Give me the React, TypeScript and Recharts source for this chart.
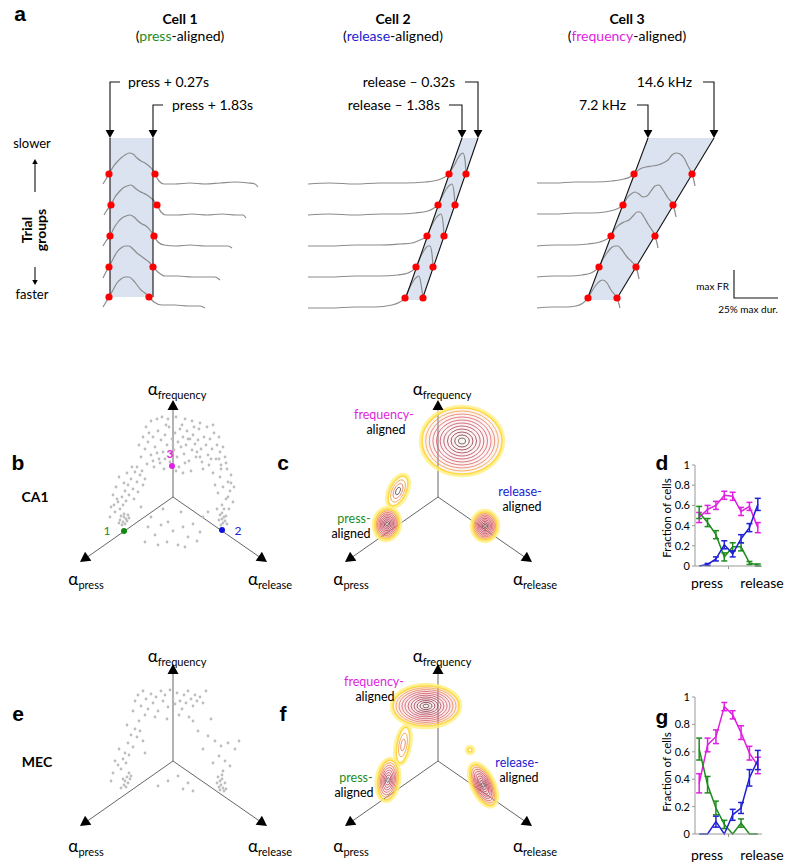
import React from "react"
import { ComposedChart, LineChart, Line, Scatter, Area, XAxis, YAxis, ErrorBar } from "recharts"

type P = [number, number]

// ---------- panel a: three example cells (screen-like units) ----------
const cell1Trials: P[][] = [
  [[103,184],[106,179],[109,174],[113,167],[117,162],[121,158],[125,155],[129,153],[133,154],[137,158],[141,161],[145,163],[149,166],[152,169],[155,174],[159,181],[164,184],[175,184],[190,183],[205,184],[220,183],[235,182],[248,183],[255,184],[258,187]],
  [[104,215],[107,210],[111,205],[115,197],[119,192],[123,188],[127,186],[131,185],[135,188],[139,191],[143,193],[147,195],[151,198],[154,201],[157,205],[161,212],[166,215],[178,215],[192,214],[207,215],[222,214],[236,215],[243,215],[246,218]],
  [[103,246],[106,241],[110,236],[114,228],[118,222],[122,218],[126,216],[130,215],[134,217],[138,221],[142,224],[146,226],[150,230],[154,236],[158,242],[164,245],[176,246],[190,245],[205,246],[218,246],[228,246],[232,248]],
  [[103,278],[106,272],[109,267],[113,259],[117,252],[121,248],[125,246],[129,246],[133,249],[137,253],[141,256],[145,259],[149,262],[153,267],[158,272],[165,276],[178,276],[192,277],[205,277],[215,277],[220,280]],
  [[103,307],[106,302],[109,297],[113,290],[117,283],[121,279],[125,277],[129,277],[133,280],[137,285],[141,290],[145,293],[149,297],[154,302],[162,305],[175,305],[188,306],[200,306],[205,308]],
]
const cell2Trials: P[][] = [
  [[308,184],[330,183],[355,184],[380,183],[405,183],[425,182],[438,180],[445,177],[449,174],[452,169],[455,164],[458,158],[461,154],[463,153],[465,160],[466,174]],
  [[308,215],[330,214],[355,215],[380,214],[400,214],[415,213],[428,211],[434,208],[438,205],[441,199],[444,193],[447,188],[450,185],[452,184],[454,192],[455,205]],
  [[308,246],[330,246],[355,245],[380,245],[400,244],[412,243],[420,240],[427,236],[430,229],[433,223],[436,218],[439,215],[441,214],[443,222],[444,236]],
  [[308,277],[330,277],[355,276],[380,276],[398,275],[408,273],[416,267],[419,260],[422,254],[425,249],[428,246],[430,246],[432,254],[433,267]],
  [[308,308],[330,308],[355,307],[375,307],[392,305],[400,302],[405,298],[408,291],[411,285],[414,280],[417,277],[419,276],[421,284],[423,298]],
]
const cell3Trials: P[][] = [
  [[537,183],[555,183],[575,182],[595,182],[612,181],[624,179],[630,177],[634,174],[640,169],[646,167],[652,166],[658,165],[663,163],[668,160],[672,155],[676,153],[680,154],[684,158],[688,166],[692,174],[694,181],[695,186]],
  [[537,214],[555,214],[575,213],[592,213],[605,212],[614,210],[619,208],[623,205],[627,198],[631,194],[635,192],[639,194],[643,197],[647,196],[651,191],[655,186],[659,185],[663,190],[668,198],[673,205],[675,212],[676,217]],
  [[537,246],[555,245],[572,245],[588,244],[600,242],[607,239],[611,236],[615,229],[619,225],[624,222],[629,220],[633,216],[637,212],[640,212],[644,217],[648,224],[652,230],[655,236],[657,243],[658,248]],
  [[537,277],[555,276],[570,276],[582,275],[591,273],[596,270],[599,267],[603,259],[607,253],[611,248],[615,246],[618,246],[622,250],[627,257],[632,262],[636,267],[638,274],[639,279]],
  [[537,308],[552,307],[566,307],[576,306],[583,303],[588,298],[592,291],[596,285],[600,281],[603,280],[607,283],[611,290],[615,295],[617,298],[619,304],[620,308]],
]
const alignDots: P[] = [
  [109,174],[111,205],[110,236],[109,267],[109,297],[155,174],[157,205],[154,236],[153,267],[149,297],
  [449,174],[438,205],[427,236],[416,267],[405,298],[466,174],[455,205],[444,236],[433,267],[423,298],
  [634,174],[623,205],[611,236],[599,267],[588,298],[692,174],[673,205],[655,236],[636,267],[617,298],
]
const windowEdges: P[][] = [
  [[110,138],[110,297]], [[153,138],[153,297]],
  [[462,138],[405,300]], [[478,138],[422,300]],
  [[648,138],[587,300]], [[714,138],[616,300]],
]
const windowBands = [
  [{ x: 110, r: [138, 297] }, { x: 153, r: [138, 297] }],
  [{ x: 405, r: [300, 300] }, { x: 422, r: [252, 300] }, { x: 462, r: [138, 184] }, { x: 478, r: [138, 138] }],
  [{ x: 587, r: [300, 300] }, { x: 616, r: [223, 300] }, { x: 648, r: [138, 247] }, { x: 714, r: [138, 138] }],
]
const pointers: P[][] = [
  [[120,82],[110,82],[110,131]], [[163,105],[153,105],[153,131]],
  [[465,82],[478,82],[478,131]], [[449,105],[462,105],[462,131]],
  [[703,82],[714,82],[714,131]], [[637,105],[648,105],[648,131]],
  [[734,270],[734,298],[778,298]],
]
const pointerHeads = [
  { x: 110, y: 138, a: 90, s: 8, tail: 0 }, { x: 153, y: 138, a: 90, s: 8, tail: 0 },
  { x: 478, y: 138, a: 90, s: 8, tail: 0 }, { x: 462, y: 138, a: 90, s: 8, tail: 0 },
  { x: 714, y: 138, a: 90, s: 8, tail: 0 }, { x: 648, y: 138, a: 90, s: 8, tail: 0 },
  { x: 35, y: 159, a: -90, s: 5, tail: 33 }, { x: 35, y: 285, a: 90, s: 5, tail: 18 },
]

// ---------- panels b / e: tuning-parameter scatter (units relative to triangle centre) ----------
const ca1Cells: P[] = [
  [-28,48],[-25,55],[-22,42],[-20,60],[-18,50],[-15,66],[-14,38],[-12,57],[-10,45],[-8,62],[-6,52],[-4,70],[-3,35],[-1,58],[1,47],[2,64],[4,40],[5,55],[7,68],[8,50],[10,60],[11,43],[13,52],[14,66],[16,36],[17,58],[19,47],[20,62],[22,53],[23,40],[25,57],[26,68],[28,48],[29,35],[31,60],[33,52],[35,42],[37,58],[39,48],[41,64],[43,38],[44,52],[-26,33],[-19,30],[-9,28],[6,30],[18,26],[30,28],[-16,44],[-2,44],[12,34],[24,45],[36,32],[-24,64],[-7,72],[9,72],[21,70],[47,45],[-32,40],[0,52],
  [-34,52],[-30,60],[-27,70],[-22,76],[-16,78],[-11,80],[-5,78],[3,80],[12,78],[19,76],[27,74],[34,70],[40,72],[46,60],[48,28],[-36,30],[-31,26],[-20,36],[-8,38],[3,26],[10,24],[15,58],[27,40],[-13,34],[38,38],
  [-33,22],[-36,15],[-38,25],[-40,8],[-42,18],[-44,2],[-45,12],[-47,-4],[-48,6],[-50,-8],[-51,0],[-53,-12],[-55,-5],[-57,10],[-58,-15],[-60,2],[-62,-10],[-35,5],[-30,12],[-39,-2],[-28,18],[-46,24],[-54,20],[-63,-20],[-41,30],[-49,14],[-56,-2],[-59,-8],
  [-45,-18],[-47,-22],[-49,-20],[-50,-25],[-52,-19],[-48,-27],[-46,-24],[-51,-28],[-53,-23],[-44,-21],[-49,-17],[-54,-26],
  [50,50],[52,40],[48,32],[54,28],[47,20],[55,15],[50,10],[57,6],[45,4],[53,-2],[49,-8],[56,-12],[42,12],[58,22],[46,38],[40,24],[60,-5],[44,-12],[53,34],[58,14],[51,-12],[55,0],[61,10],
  [47,-18],[49,-22],[51,-20],[50,-26],[52,-24],[48,-28],[53,-19],[46,-23],[54,-27],[49,-16],
  [-25,-30],[-18,-38],[-12,-28],[-6,-45],[0,-34],[5,-48],[10,-30],[15,-40],[20,-27],[24,-44],[-28,-45],[-22,-20],[-5,-25],[12,-50],[27,-35],[-15,-48],[30,-20],[-32,-10],[35,-15],[-10,-12],[8,-15],
]
const mecCells: P[] = [
  [-38,60],[-35,66],[-32,55],[-30,70],[-27,62],[-25,52],[-22,67],[-20,58],[-17,64],[-15,50],[-12,70],[-10,60],[-8,66],[-5,54],[-3,71],[0,62],[2,57],[4,68],[7,60],[9,52],[11,66],[13,58],[15,70],[18,62],[20,55],[22,66],[24,60],[27,64],[-28,46],[-18,44],[-6,42],[6,46],[16,44],[30,58],[-40,50],[33,70],
  [-34,40],[-38,32],[-36,24],[-42,26],[-40,14],[-45,18],[-44,6],[-48,8],[-47,-2],[-50,2],[-52,-8],[-55,-4],[-58,0],[-60,-12],[-33,30],[-30,20],[-46,36],[-54,12],[-62,-20],[-28,8],
  [-44,-12],[-46,-16],[-48,-20],[-45,-22],[-50,-18],[-47,-26],[-43,-18],[-49,-24],[-52,-27],[-42,-15],
  [20,40],[25,30],[35,25],[42,20],[48,15],[55,18],[62,12],[46,5],[52,0],[57,-5],[40,-2],[30,12],[66,20],[38,42],[50,-10],
  [45,-16],[47,-20],[49,-18],[48,-24],[50,-27],[52,-22],[46,-26],[51,-30],[49,-14],[53,-28],[47,-29],[44,-22],
  [10,-28],[15,-22],[20,-30],[-5,-20],[5,-15],[-15,-25],
]
const exampleCells = [
  { x: -49, y: -34, c: "#118811" },
  { x: 49, y: -33, c: "#1111dd" },
  { x: -1, y: 31, c: "#e020e0" },
]

// ---------- panels c / f: density contours ----------
const ca1Density = [
  { x: 24, y: 56, rx: 40, ry: 33, rot: 0, n: 11, fill: 0.12 },
  { x: -40, y: 6, rx: 8, ry: 16, rot: 25, n: 4, fill: 0 },
  { x: -51, y: -27, rx: 12, ry: 15, rot: 10, n: 9, fill: 0.4 },
  { x: 47, y: -29, rx: 12, ry: 14, rot: 0, n: 9, fill: 0.5 },
]
const mecDensity = [
  { x: -12, y: 55, rx: 33, ry: 20, rot: 0, n: 11, fill: 0.2 },
  { x: -35, y: 16, rx: 6, ry: 18, rot: 10, n: 3, fill: 0 },
  { x: -50, y: -19, rx: 10, ry: 20, rot: 8, n: 8, fill: 0.15 },
  { x: 45, y: -24, rx: 10, ry: 22, rot: -25, n: 9, fill: 0.3 },
  { x: 32, y: 11, rx: 2, ry: 2, rot: 0, n: 1, fill: 0 },
]

const armLines: P[][] = [
  [[0,0],[0,90]], [[0,0],[-87,-61]], [[0,0],[88,-61]],
]
const armHeads = [
  { x: 0, y: 97, a: -90, s: 10, tail: 0 },
  { x: -93, y: -65, a: 145, s: 10, tail: 0 },
  { x: 94, y: -65, a: 35, s: 10, tail: 0 },
]

// ---------- panels d / g: fraction of cells across the interval ----------
const stageIdx = [1, 2, 3, 4, 5, 6, 7, 8]
const ca1Press = [0.53, 0.43, 0.31, 0.09, 0.19, 0.19, 0.03, 0.01]
const ca1PressErr = [0.06, 0.04, 0.04, 0.04, 0.04, 0.04, 0.015, 0.01]
const ca1Release = [0.0, 0.015, 0.07, 0.21, 0.12, 0.27, 0.38, 0.61]
const ca1ReleaseErr = [0, 0.01, 0.02, 0.04, 0.03, 0.04, 0.04, 0.06]
const ca1Freq = [0.48, 0.56, 0.6, 0.7, 0.69, 0.54, 0.59, 0.38]
const ca1FreqErr = [0.05, 0.04, 0.04, 0.04, 0.04, 0.04, 0.04, 0.05]

const mecPress = [0.62, 0.36, 0.19, 0.07, 0.0, 0.08, 0.0, 0.0]
const mecPressErr = [0.08, 0.06, 0.05, 0.03, 0, 0.03, 0, 0]
const mecRelease = [0.0, 0.0, 0.09, 0.0, 0.14, 0.19, 0.41, 0.54]
const mecReleaseErr = [0, 0, 0.04, 0, 0.04, 0.04, 0.06, 0.07]
const mecFreq = [0.37, 0.65, 0.71, 0.93, 0.87, 0.74, 0.59, 0.5]
const mecFreqErr = [0.07, 0.05, 0.05, 0.03, 0.03, 0.05, 0.05, 0.06]

const GREEN = "#1e8c1e"
const BLUE = "#2121d4"
const MAGENTA = "#e01fe0"
const FONT = "Lato, 'Open Sans', sans-serif"
const LETTER = "'Liberation Sans', Arial, sans-serif"

const xy = (pts: P[]) => pts.map(([x, y]) => ({ x, y }))

// arrowhead (optionally with a stem) pointing along angle a, tip at the data point
const Head = (props: any) => {
  const { cx, cy, payload } = props
  const s = payload.s
  return (
    <g transform={`translate(${cx},${cy}) rotate(${payload.a})`}>
      {payload.tail > 0 && <line x1={-payload.tail} y1={0} x2={-s + 1} y2={0} stroke="#111" strokeWidth={1.1} />}
      <polygon points={`0,0 ${-s},${-s * 0.55} ${-s},${s * 0.55}`} fill="#000" />
    </g>
  )
}
const RedDot = (props: any) => <circle cx={props.cx} cy={props.cy} r={3.6} fill="#ff0000" />
const GreyDot = (props: any) => <circle cx={props.cx} cy={props.cy} r={1.4} fill="#bdbdbd" />
const ColorDot = (props: any) => <circle cx={props.cx} cy={props.cy} r={3} fill={props.payload.c} />

const ringColors = ["#ffd84a", "#f4a03c", "#e8785a", "#dc6068", "#d05466", "#c44a60", "#b5425a", "#a23a52", "#8c3449", "#763040", "#5a2a30"]
const Blob = (props: any) => {
  const { cx, cy, payload } = props
  const { rx, ry, rot, n, fill } = payload
  const rings = []
  for (let k = 0; k < n; k++) {
    const f = (n - k) / n
    rings.push(
      <ellipse key={k} cx={0} cy={0} rx={rx * f} ry={ry * f} fill="none"
        stroke={k === n - 1 && n > 3 ? "#555" : ringColors[Math.min(k, ringColors.length - 1)]}
        strokeWidth={k === 0 ? 1.6 : 0.8} />
    )
  }
  return (
    <g transform={`translate(${cx},${cy}) rotate(${rot})`}>
      <ellipse cx={0} cy={0} rx={rx + 1.5} ry={ry + 1.5} fill="#e7a0a0" fillOpacity={fill} stroke="#fff080" strokeWidth={3.5} strokeOpacity={0.8} />
      {rings}
    </g>
  )
}

function Txt({ x, y, children, size = 14, anchor = "middle", bold = false, color = "#000", rotate = 0, family = FONT }: any) {
  const tx = anchor === "middle" ? "-50%" : anchor === "end" ? "-100%" : "0"
  return (
    <div style={{
      position: "absolute", left: x, top: y, transform: `translate(${tx},-50%) rotate(${rotate}deg)`,
      fontSize: size, fontWeight: bold ? 700 : 400, color, fontFamily: family, whiteSpace: "nowrap", lineHeight: 1,
    }}>{children}</div>
  )
}

function Alpha({ x, y, sub }: { x: number; y: number; sub: string }) {
  return (
    <div style={{ position: "absolute", left: x, top: y, transform: "translate(-50%,-50%)", fontFamily: FONT, whiteSpace: "nowrap", lineHeight: 1 }}>
      <span style={{ fontSize: 17 }}>α</span>
      <span style={{ fontSize: 11, position: "relative", top: 4 }}>{sub}</span>
    </div>
  )
}

function CellsPanel() {
  return (
    <div style={{ position: "absolute", left: 0, top: 0 }}>
      <ComposedChart width={798} height={312} margin={{ top: 0, right: 0, bottom: 0, left: 0 }}>
        <XAxis type="number" dataKey="x" domain={[0, 798]} hide allowDataOverflow />
        <YAxis type="number" dataKey="y" domain={[0, 312]} reversed hide allowDataOverflow />
        {windowBands.map((b, i) => (
          <Area key={"b" + i} data={b} dataKey="r" type="linear" stroke="none" fill="#dae3ef" fillOpacity={1} isAnimationActive={false} />
        ))}
        {[...cell1Trials, ...cell2Trials, ...cell3Trials].map((t, i) => (
          <Line key={"t" + i} data={xy(t)} dataKey="y" type="monotone" stroke="#8c8c8c" strokeWidth={1.2} dot={false} isAnimationActive={false} />
        ))}
        {windowEdges.map((e, i) => (
          <Line key={"e" + i} data={xy(e)} dataKey="y" type="linear" stroke="#111" strokeWidth={1.1} dot={false} isAnimationActive={false} />
        ))}
        {pointers.map((p, i) => (
          <Line key={"p" + i} data={xy(p)} dataKey="y" type="linear" stroke="#111" strokeWidth={1.1} dot={false} isAnimationActive={false} />
        ))}
        <Scatter data={pointerHeads} shape={Head} isAnimationActive={false} />
        <Scatter data={xy(alignDots)} shape={RedDot} isAnimationActive={false} />
      </ComposedChart>
    </div>
  )
}

function TriangleChart({ cx, cy, cells, density, examples }: any) {
  return (
    <div style={{ position: "absolute", left: cx - 100, top: cy - 110 }}>
      <ComposedChart width={200} height={190} margin={{ top: 0, right: 0, bottom: 0, left: 0 }}>
        <XAxis type="number" dataKey="x" domain={[-100, 100]} hide allowDataOverflow />
        <YAxis type="number" dataKey="y" domain={[-80, 110]} hide allowDataOverflow />
        {density && <Scatter data={density} shape={Blob} isAnimationActive={false} />}
        {cells && <Scatter data={xy(cells)} shape={GreyDot} isAnimationActive={false} />}
        {armLines.map((a, i) => (
          <Line key={i} data={xy(a)} dataKey="y" type="linear" stroke="#666" strokeWidth={1} dot={false} isAnimationActive={false} />
        ))}
        <Scatter data={armHeads} shape={Head} isAnimationActive={false} />
        {examples && <Scatter data={examples} shape={ColorDot} isAnimationActive={false} />}
      </ComposedChart>
    </div>
  )
}

function FractionChart({ left, top, plotH, press, pressErr, release, releaseErr, freq, freqErr }: any) {
  const rows = stageIdx.map((s, i) => ({
    i: s, press: press[i], pressErr: pressErr[i], release: release[i], releaseErr: releaseErr[i], freq: freq[i], freqErr: freqErr[i],
  }))
  return (
    <div style={{ position: "absolute", left, top }}>
      <LineChart width={115} height={plotH + 30} data={rows} margin={{ top: 10, right: 8, bottom: 0, left: 0 }}>
        <XAxis type="number" dataKey="i" domain={[0.5, 8.5]} ticks={[4.5]} tickFormatter={() => ""} tickSize={3} height={20} stroke="#999" allowDataOverflow />
        <YAxis type="number" domain={[0, 1]} ticks={[0, 0.2, 0.4, 0.6, 0.8, 1]} width={40} tickSize={3} stroke="#999"
          tick={{ fontSize: 11, fill: "#000", fontFamily: FONT }} tickFormatter={(v: number) => String(v)} />
        <Line dataKey="freq" stroke={MAGENTA} strokeWidth={1.5} dot={false} isAnimationActive={false}>
          <ErrorBar dataKey="freqErr" width={3} strokeWidth={1.5} stroke={MAGENTA} direction="y" />
        </Line>
        <Line dataKey="press" stroke={GREEN} strokeWidth={1.5} dot={false} isAnimationActive={false}>
          <ErrorBar dataKey="pressErr" width={3} strokeWidth={1.5} stroke={GREEN} direction="y" />
        </Line>
        <Line dataKey="release" stroke={BLUE} strokeWidth={1.5} dot={false} isAnimationActive={false}>
          <ErrorBar dataKey="releaseErr" width={3} strokeWidth={1.5} stroke={BLUE} direction="y" />
        </Line>
      </LineChart>
    </div>
  )
}

export default function App() {
  return (
    <div style={{ position: "absolute", left: 0, top: 0, width: 798, height: 866, background: "#fff", overflow: "hidden", fontFamily: FONT }}>
      <CellsPanel />
      <Txt x={20} y={13} size={21} bold family={LETTER}>a</Txt>
      <Txt x={180} y={19} bold>Cell 1</Txt>
      <Txt x={180} y={36}>(<span style={{ color: GREEN }}>press</span>-aligned)</Txt>
      <Txt x={393} y={19} bold>Cell 2</Txt>
      <Txt x={393} y={36}>(<span style={{ color: BLUE }}>release</span>-aligned)</Txt>
      <Txt x={627} y={19} bold>Cell 3</Txt>
      <Txt x={627} y={36}>(<span style={{ color: MAGENTA }}>frequency</span>-aligned)</Txt>
      <Txt x={128} y={82} anchor="start">press + 0.27s</Txt>
      <Txt x={172} y={105} anchor="start">press + 1.83s</Txt>
      <Txt x={455} y={82} anchor="end">release – 0.32s</Txt>
      <Txt x={440} y={105} anchor="end">release – 1.38s</Txt>
      <Txt x={692} y={82} anchor="end">14.6 kHz</Txt>
      <Txt x={626} y={105} anchor="end">7.2 kHz</Txt>
      <Txt x={32} y={143} size={13}>slower</Txt>
      <Txt x={32} y={294} size={13}>faster</Txt>
      <Txt x={34} y={230} size={14} bold rotate={-90}>
        <div style={{ textAlign: "center", lineHeight: 1 }}>Trial<br />groups</div>
      </Txt>
      <Txt x={729} y={286} size={10} anchor="end">max FR</Txt>
      <Txt x={748} y={309} size={10}>25% max dur.</Txt>

      <TriangleChart cx={173} cy={497} cells={ca1Cells} examples={exampleCells} />
      <Txt x={18} y={462} size={21} bold family={LETTER}>b</Txt>
      <Txt x={35} y={497} size={14} bold>CA1</Txt>
      <Alpha x={177} y={388} sub="frequency" />
      <Alpha x={86} y={578} sub="press" />
      <Alpha x={270} y={578} sub="release" />
      <Txt x={107} y={531} size={12} color={GREEN}>1</Txt>
      <Txt x={238} y={531} size={12} color={BLUE}>2</Txt>
      <Txt x={170} y={454} size={12} bold color={MAGENTA}>3</Txt>

      <TriangleChart cx={438} cy={497} density={ca1Density} />
      <Txt x={283} y={462} size={21} bold family={LETTER}>c</Txt>
      <Alpha x={442} y={388} sub="frequency" />
      <Alpha x={351} y={578} sub="press" />
      <Alpha x={535} y={578} sub="release" />
      <Txt x={384} y={415} size={12.5} color={MAGENTA}>frequency-</Txt>
      <Txt x={386} y={430} size={12.5}>aligned</Txt>
      <Txt x={354} y={519} size={12.5} color={GREEN}>press-</Txt>
      <Txt x={351} y={534} size={12.5}>aligned</Txt>
      <Txt x={520} y={492} size={12.5} color={BLUE}>release-</Txt>
      <Txt x={522} y={507} size={12.5}>aligned</Txt>

      <FractionChart left={655} top={455} plotH={101} press={ca1Press} pressErr={ca1PressErr} release={ca1Release}
        releaseErr={ca1ReleaseErr} freq={ca1Freq} freqErr={ca1FreqErr} />
      <Txt x={662} y={462} size={21} bold family={LETTER}>d</Txt>
      <Txt x={667} y={518} size={11.5} rotate={-90}>Fraction of cells</Txt>
      <Txt x={707} y={583} size={14}>press</Txt>
      <Txt x={762} y={583} size={14}>release</Txt>

      <TriangleChart cx={173} cy={761} cells={mecCells} />
      <Txt x={18} y={713} size={21} bold family={LETTER}>e</Txt>
      <Txt x={37} y={762} size={14} bold>MEC</Txt>
      <Alpha x={177} y={655} sub="frequency" />
      <Alpha x={86} y={845} sub="press" />
      <Alpha x={270} y={845} sub="release" />

      <TriangleChart cx={438} cy={761} density={mecDensity} />
      <Txt x={283} y={713} size={21} bold family={LETTER}>f</Txt>
      <Alpha x={442} y={655} sub="frequency" />
      <Alpha x={351} y={845} sub="press" />
      <Alpha x={535} y={845} sub="release" />
      <Txt x={374} y={682} size={12.5} color={MAGENTA}>frequency-</Txt>
      <Txt x={375} y={697} size={12.5}>aligned</Txt>
      <Txt x={356} y={778} size={12.5} color={GREEN}>press-</Txt>
      <Txt x={354} y={793} size={12.5}>aligned</Txt>
      <Txt x={517} y={763} size={12.5} color={BLUE}>release-</Txt>
      <Txt x={519} y={778} size={12.5}>aligned</Txt>

      <FractionChart left={655} top={687} plotH={137} press={mecPress} pressErr={mecPressErr} release={mecRelease}
        releaseErr={mecReleaseErr} freq={mecFreq} freqErr={mecFreqErr} />
      <Txt x={662} y={716} size={21} bold family={LETTER}>g</Txt>
      <Txt x={667} y={772} size={11.5} rotate={-90}>Fraction of cells</Txt>
      <Txt x={707} y={855} size={14}>press</Txt>
      <Txt x={762} y={855} size={14}>release</Txt>
    </div>
  )
}
